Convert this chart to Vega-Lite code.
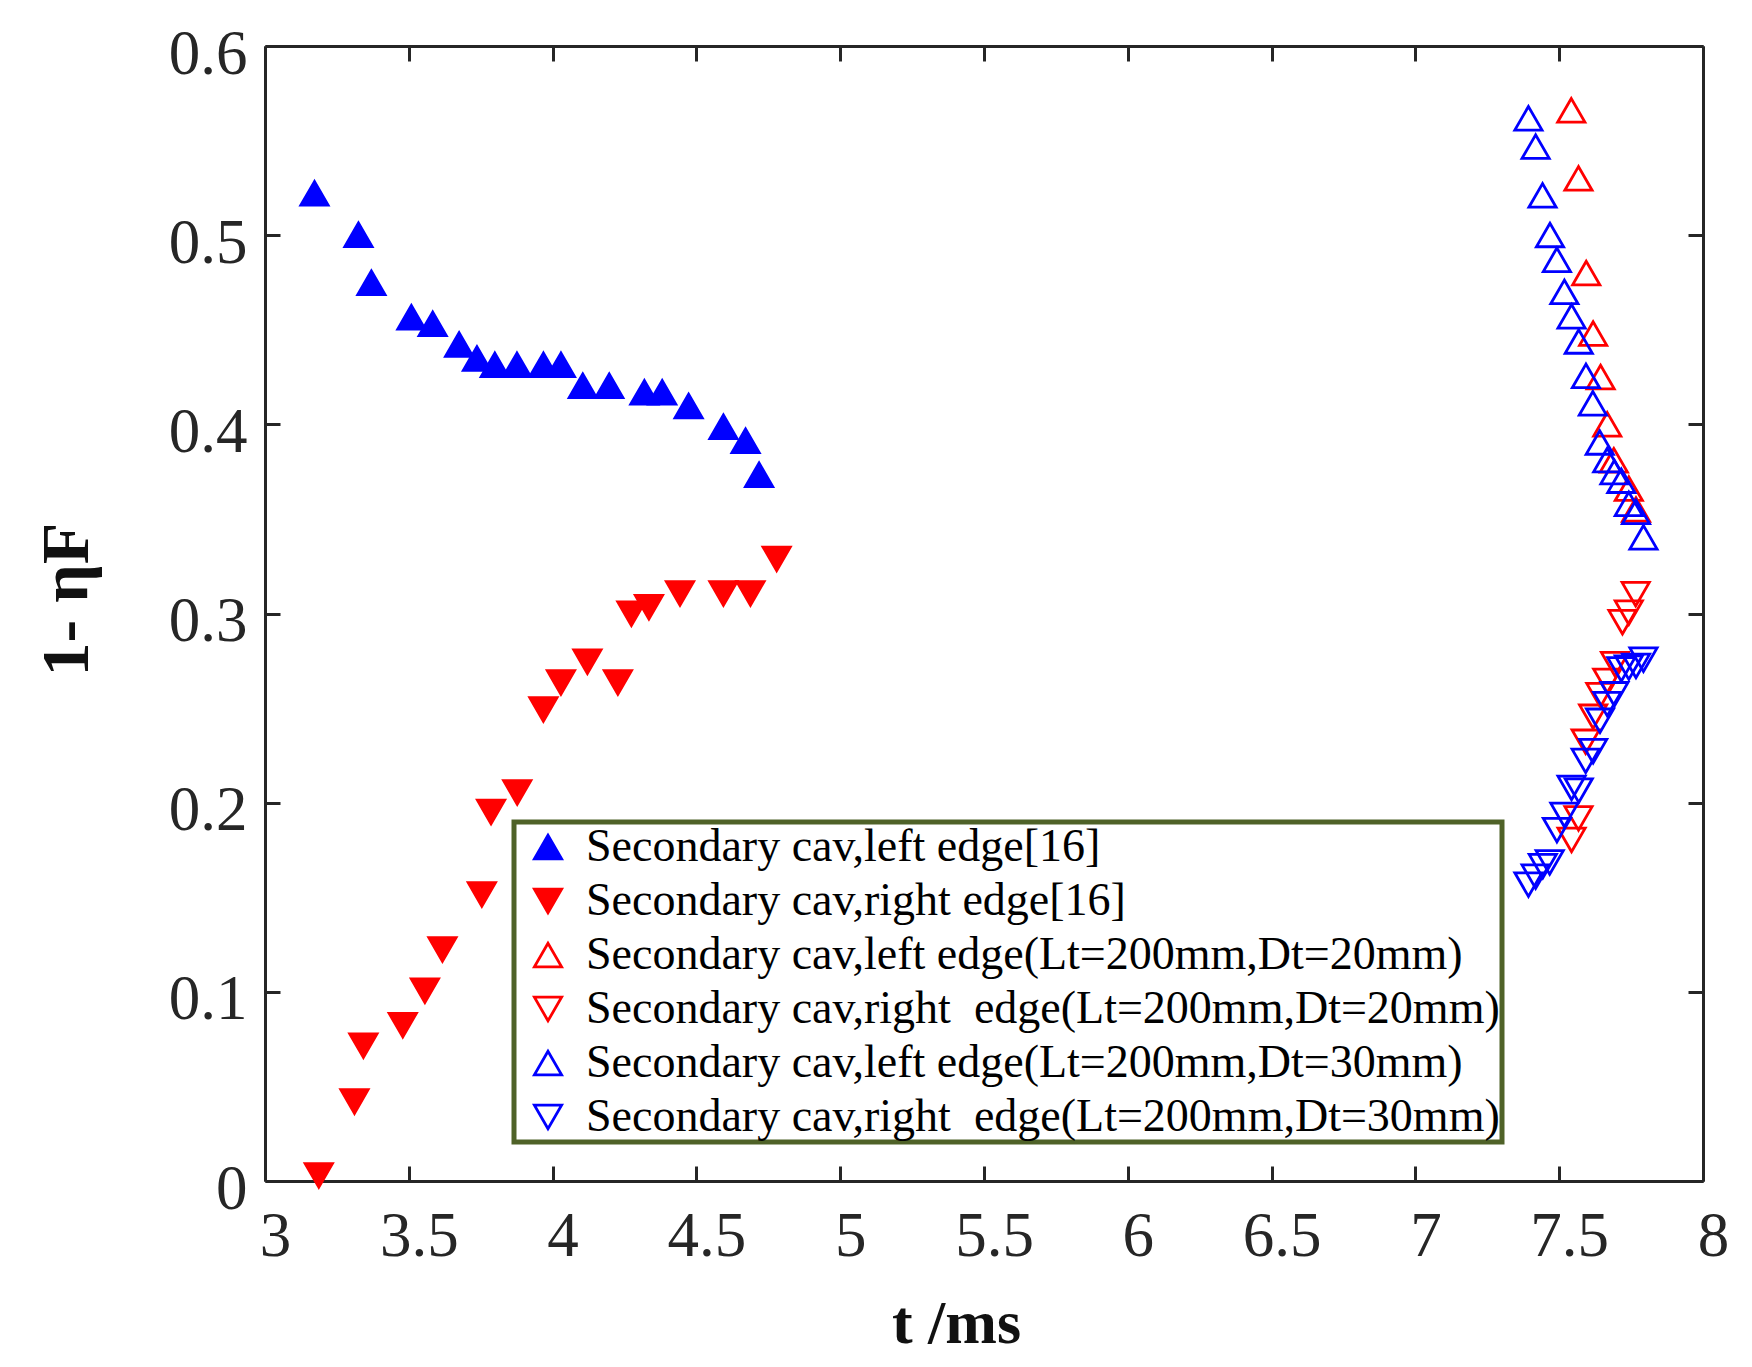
{
  "$schema": "https://vega.github.io/schema/vega-lite/v6.json",
  "width": 1438,
  "height": 1135,
  "autosize": {"type": "none"},
  "padding": {"left": 265, "top": 46, "right": 49, "bottom": 186},
  "background": "white",
  "config": {
    "view": {"stroke": null},
    "font": "Liberation Serif",
    "legend": {"strokeWidth": 5},
    "axis": {
      "domainColor": "#262626",
      "domainWidth": 3,
      "tickColor": "#262626",
      "tickWidth": 3,
      "tickSize": -15,
      "grid": false,
      "labelFlush": false,
      "labelFont": "Liberation Serif",
      "labelFontSize": 63,
      "labelColor": "#262626",
      "titleFont": "Liberation Serif",
      "titleColor": "#111111"
    }
  },
  "data": {
    "values": [
      {"s": "Secondary cav,left edge[16]", "t": 3.172, "v": 0.5221},
      {"s": "Secondary cav,left edge[16]", "t": 3.325, "v": 0.5002},
      {"s": "Secondary cav,left edge[16]", "t": 3.370, "v": 0.4748},
      {"s": "Secondary cav,left edge[16]", "t": 3.509, "v": 0.4566},
      {"s": "Secondary cav,left edge[16]", "t": 3.583, "v": 0.4531},
      {"s": "Secondary cav,left edge[16]", "t": 3.675, "v": 0.4422},
      {"s": "Secondary cav,left edge[16]", "t": 3.737, "v": 0.4348},
      {"s": "Secondary cav,left edge[16]", "t": 3.799, "v": 0.4314},
      {"s": "Secondary cav,left edge[16]", "t": 3.876, "v": 0.4314},
      {"s": "Secondary cav,left edge[16]", "t": 3.968, "v": 0.4314},
      {"s": "Secondary cav,left edge[16]", "t": 4.029, "v": 0.4314},
      {"s": "Secondary cav,left edge[16]", "t": 4.105, "v": 0.4204},
      {"s": "Secondary cav,left edge[16]", "t": 4.197, "v": 0.4204},
      {"s": "Secondary cav,left edge[16]", "t": 4.319, "v": 0.4169},
      {"s": "Secondary cav,left edge[16]", "t": 4.381, "v": 0.4169},
      {"s": "Secondary cav,left edge[16]", "t": 4.473, "v": 0.4097},
      {"s": "Secondary cav,left edge[16]", "t": 4.594, "v": 0.3987},
      {"s": "Secondary cav,left edge[16]", "t": 4.671, "v": 0.3913},
      {"s": "Secondary cav,left edge[16]", "t": 4.718, "v": 0.3733},
      {"s": "Secondary cav,right edge[16]", "t": 3.187, "v": 0.003},
      {"s": "Secondary cav,right edge[16]", "t": 3.311, "v": 0.042},
      {"s": "Secondary cav,right edge[16]", "t": 3.342, "v": 0.0716},
      {"s": "Secondary cav,right edge[16]", "t": 3.479, "v": 0.0824},
      {"s": "Secondary cav,right edge[16]", "t": 3.556, "v": 0.1006},
      {"s": "Secondary cav,right edge[16]", "t": 3.617, "v": 0.1224},
      {"s": "Secondary cav,right edge[16]", "t": 3.754, "v": 0.1515},
      {"s": "Secondary cav,right edge[16]", "t": 3.786, "v": 0.1951},
      {"s": "Secondary cav,right edge[16]", "t": 3.877, "v": 0.2054},
      {"s": "Secondary cav,right edge[16]", "t": 3.968, "v": 0.2493},
      {"s": "Secondary cav,right edge[16]", "t": 4.029, "v": 0.2635},
      {"s": "Secondary cav,right edge[16]", "t": 4.121, "v": 0.2745},
      {"s": "Secondary cav,right edge[16]", "t": 4.227, "v": 0.2635},
      {"s": "Secondary cav,right edge[16]", "t": 4.274, "v": 0.2999},
      {"s": "Secondary cav,right edge[16]", "t": 4.335, "v": 0.3033},
      {"s": "Secondary cav,right edge[16]", "t": 4.443, "v": 0.3106},
      {"s": "Secondary cav,right edge[16]", "t": 4.594, "v": 0.3106},
      {"s": "Secondary cav,right edge[16]", "t": 4.688, "v": 0.3106},
      {"s": "Secondary cav,right edge[16]", "t": 4.779, "v": 0.3289},
      {"s": "Secondary cav,left edge(Lt=200mm,Dt=20mm)", "t": 7.542, "v": 0.566},
      {"s": "Secondary cav,left edge(Lt=200mm,Dt=20mm)", "t": 7.567, "v": 0.530},
      {"s": "Secondary cav,left edge(Lt=200mm,Dt=20mm)", "t": 7.594, "v": 0.480},
      {"s": "Secondary cav,left edge(Lt=200mm,Dt=20mm)", "t": 7.618, "v": 0.448},
      {"s": "Secondary cav,left edge(Lt=200mm,Dt=20mm)", "t": 7.644, "v": 0.425},
      {"s": "Secondary cav,left edge(Lt=200mm,Dt=20mm)", "t": 7.667, "v": 0.400},
      {"s": "Secondary cav,left edge(Lt=200mm,Dt=20mm)", "t": 7.690, "v": 0.381},
      {"s": "Secondary cav,left edge(Lt=200mm,Dt=20mm)", "t": 7.742, "v": 0.366},
      {"s": "Secondary cav,left edge(Lt=200mm,Dt=20mm)", "t": 7.767, "v": 0.355},
      {"s": "Secondary cav,right\u00a0 edge(Lt=200mm,Dt=20mm)", "t": 7.766, "v": 0.3102},
      {"s": "Secondary cav,right\u00a0 edge(Lt=200mm,Dt=20mm)", "t": 7.742, "v": 0.3004},
      {"s": "Secondary cav,right\u00a0 edge(Lt=200mm,Dt=20mm)", "t": 7.720, "v": 0.2954},
      {"s": "Secondary cav,right\u00a0 edge(Lt=200mm,Dt=20mm)", "t": 7.694, "v": 0.2732},
      {"s": "Secondary cav,right\u00a0 edge(Lt=200mm,Dt=20mm)", "t": 7.667, "v": 0.2644},
      {"s": "Secondary cav,right\u00a0 edge(Lt=200mm,Dt=20mm)", "t": 7.643, "v": 0.2568},
      {"s": "Secondary cav,right\u00a0 edge(Lt=200mm,Dt=20mm)", "t": 7.618, "v": 0.2454},
      {"s": "Secondary cav,right\u00a0 edge(Lt=200mm,Dt=20mm)", "t": 7.592, "v": 0.2322},
      {"s": "Secondary cav,right\u00a0 edge(Lt=200mm,Dt=20mm)", "t": 7.567, "v": 0.1917},
      {"s": "Secondary cav,right\u00a0 edge(Lt=200mm,Dt=20mm)", "t": 7.543, "v": 0.1803},
      {"s": "Secondary cav,left edge(Lt=200mm,Dt=30mm)", "t": 7.393, "v": 0.5618},
      {"s": "Secondary cav,left edge(Lt=200mm,Dt=30mm)", "t": 7.418, "v": 0.5468},
      {"s": "Secondary cav,left edge(Lt=200mm,Dt=30mm)", "t": 7.442, "v": 0.5210},
      {"s": "Secondary cav,left edge(Lt=200mm,Dt=30mm)", "t": 7.468, "v": 0.5001},
      {"s": "Secondary cav,left edge(Lt=200mm,Dt=30mm)", "t": 7.492, "v": 0.4870},
      {"s": "Secondary cav,left edge(Lt=200mm,Dt=30mm)", "t": 7.518, "v": 0.4700},
      {"s": "Secondary cav,left edge(Lt=200mm,Dt=30mm)", "t": 7.543, "v": 0.4571},
      {"s": "Secondary cav,left edge(Lt=200mm,Dt=30mm)", "t": 7.568, "v": 0.4438},
      {"s": "Secondary cav,left edge(Lt=200mm,Dt=30mm)", "t": 7.593, "v": 0.4256},
      {"s": "Secondary cav,left edge(Lt=200mm,Dt=30mm)", "t": 7.617, "v": 0.4111},
      {"s": "Secondary cav,left edge(Lt=200mm,Dt=30mm)", "t": 7.641, "v": 0.3904},
      {"s": "Secondary cav,left edge(Lt=200mm,Dt=30mm)", "t": 7.667, "v": 0.3811},
      {"s": "Secondary cav,left edge(Lt=200mm,Dt=30mm)", "t": 7.692, "v": 0.3748},
      {"s": "Secondary cav,left edge(Lt=200mm,Dt=30mm)", "t": 7.716, "v": 0.3702},
      {"s": "Secondary cav,left edge(Lt=200mm,Dt=30mm)", "t": 7.742, "v": 0.3580},
      {"s": "Secondary cav,left edge(Lt=200mm,Dt=30mm)", "t": 7.767, "v": 0.3537},
      {"s": "Secondary cav,left edge(Lt=200mm,Dt=30mm)", "t": 7.793, "v": 0.3403},
      {"s": "Secondary cav,right\u00a0 edge(Lt=200mm,Dt=30mm)", "t": 7.793, "v": 0.2756},
      {"s": "Secondary cav,right\u00a0 edge(Lt=200mm,Dt=30mm)", "t": 7.767, "v": 0.2723},
      {"s": "Secondary cav,right\u00a0 edge(Lt=200mm,Dt=30mm)", "t": 7.742, "v": 0.2714},
      {"s": "Secondary cav,right\u00a0 edge(Lt=200mm,Dt=30mm)", "t": 7.716, "v": 0.2704},
      {"s": "Secondary cav,right\u00a0 edge(Lt=200mm,Dt=30mm)", "t": 7.692, "v": 0.2573},
      {"s": "Secondary cav,right\u00a0 edge(Lt=200mm,Dt=30mm)", "t": 7.667, "v": 0.2521},
      {"s": "Secondary cav,right\u00a0 edge(Lt=200mm,Dt=30mm)", "t": 7.642, "v": 0.2433},
      {"s": "Secondary cav,right\u00a0 edge(Lt=200mm,Dt=30mm)", "t": 7.618, "v": 0.2272},
      {"s": "Secondary cav,right\u00a0 edge(Lt=200mm,Dt=30mm)", "t": 7.592, "v": 0.2221},
      {"s": "Secondary cav,right\u00a0 edge(Lt=200mm,Dt=30mm)", "t": 7.568, "v": 0.2064},
      {"s": "Secondary cav,right\u00a0 edge(Lt=200mm,Dt=30mm)", "t": 7.543, "v": 0.2078},
      {"s": "Secondary cav,right\u00a0 edge(Lt=200mm,Dt=30mm)", "t": 7.518, "v": 0.1935},
      {"s": "Secondary cav,right\u00a0 edge(Lt=200mm,Dt=30mm)", "t": 7.492, "v": 0.1855},
      {"s": "Secondary cav,right\u00a0 edge(Lt=200mm,Dt=30mm)", "t": 7.467, "v": 0.1684},
      {"s": "Secondary cav,right\u00a0 edge(Lt=200mm,Dt=30mm)", "t": 7.443, "v": 0.1664},
      {"s": "Secondary cav,right\u00a0 edge(Lt=200mm,Dt=30mm)", "t": 7.418, "v": 0.1609},
      {"s": "Secondary cav,right\u00a0 edge(Lt=200mm,Dt=30mm)", "t": 7.393, "v": 0.1567}
    ]
  },
  "resolve": {"axis": {"x": "independent", "y": "independent"}},
  "layer": [
    {
      "mark": {"type": "point", "size": 740, "strokeWidth": 2.8, "opacity": 1, "fillOpacity": 1, "strokeOpacity": 1},
      "encoding": {
        "x": {
          "field": "t", "type": "quantitative",
          "scale": {"domain": [3, 8], "nice": false, "zero": false},
          "axis": {
            "values": [3, 3.5, 4, 4.5, 5, 5.5, 6, 6.5, 7, 7.5, 8],
            "format": "~g",
            "labelPadding": 39,
            "labelOffset": 10,
            "labelBaseline": "top",
            "title": "t /ms",
            "titleFontSize": 62,
            "titleFontWeight": "bold",
            "titleX": 691,
            "titleY": 161,
            "titleAlign": "center",
            "titleBaseline": "alphabetic"
          }
        },
        "y": {
          "field": "v", "type": "quantitative",
          "scale": {"domain": [0, 0.6], "nice": false, "zero": false},
          "axis": {
            "values": [0, 0.1, 0.2, 0.3, 0.4, 0.5, 0.6],
            "format": "~g",
            "labelPadding": 33,
            "labelOffset": 8,
            "labelBaseline": "middle",
            "title": "1- ηF",
            "titleFontSize": 68,
            "titleFontWeight": "bold",
            "titleAngle": -90,
            "titleX": -198,
            "titleY": 553,
            "titleAlign": "center",
            "titleBaseline": "middle"
          }
        },
        "shape": {
          "field": "s", "type": "nominal",
          "scale": {
            "domain": ["Secondary cav,left edge[16]", "Secondary cav,right edge[16]", "Secondary cav,left edge(Lt=200mm,Dt=20mm)", "Secondary cav,right\u00a0 edge(Lt=200mm,Dt=20mm)", "Secondary cav,left edge(Lt=200mm,Dt=30mm)", "Secondary cav,right\u00a0 edge(Lt=200mm,Dt=30mm)"],
            "range": ["triangle-up", "triangle-down", "triangle-up", "triangle-down", "triangle-up", "triangle-down"]
          },
          "legend": {
            "title": null,
            "orient": "none",
            "legendX": 249,
            "legendY": 776,
            "labelFont": "Liberation Serif",
            "labelFontSize": 46,
            "labelColor": "#000000",
            "labelLimit": 0,
            "labelOffset": 15,
            "symbolSize": 740,
            "symbolStrokeWidth": 2.8,
            "symbolOffset": 9,
            "rowPadding": 8,
            "padding": 2,
            "fillColor": "white",
            "strokeColor": "#4f6228"
          }
        },
        "stroke": {
          "field": "s", "type": "nominal",
          "scale": {
            "domain": ["Secondary cav,left edge[16]", "Secondary cav,right edge[16]", "Secondary cav,left edge(Lt=200mm,Dt=20mm)", "Secondary cav,right\u00a0 edge(Lt=200mm,Dt=20mm)", "Secondary cav,left edge(Lt=200mm,Dt=30mm)", "Secondary cav,right\u00a0 edge(Lt=200mm,Dt=30mm)"],
            "range": ["#0000ff", "#ff0000", "#ff0000", "#ff0000", "#0000ff", "#0000ff"]
          },
          "legend": null
        },
        "fill": {
          "field": "s", "type": "nominal",
          "scale": {
            "domain": ["Secondary cav,left edge[16]", "Secondary cav,right edge[16]", "Secondary cav,left edge(Lt=200mm,Dt=20mm)", "Secondary cav,right\u00a0 edge(Lt=200mm,Dt=20mm)", "Secondary cav,left edge(Lt=200mm,Dt=30mm)", "Secondary cav,right\u00a0 edge(Lt=200mm,Dt=30mm)"],
            "range": ["#0000ff", "#ff0000", "transparent", "transparent", "transparent", "transparent"]
          },
          "legend": null
        }
      }
    },
    {
      "mark": {"type": "point", "opacity": 0},
      "encoding": {
        "x": {
          "field": "t", "type": "quantitative",
          "axis": {"orient": "top", "values": [3, 3.5, 4, 4.5, 5, 5.5, 6, 6.5, 7, 7.5, 8], "labels": false, "title": null}
        },
        "y": {
          "field": "v", "type": "quantitative",
          "axis": {"orient": "right", "values": [0, 0.1, 0.2, 0.3, 0.4, 0.5, 0.6], "labels": false, "title": null}
        }
      }
    }
  ]
}
